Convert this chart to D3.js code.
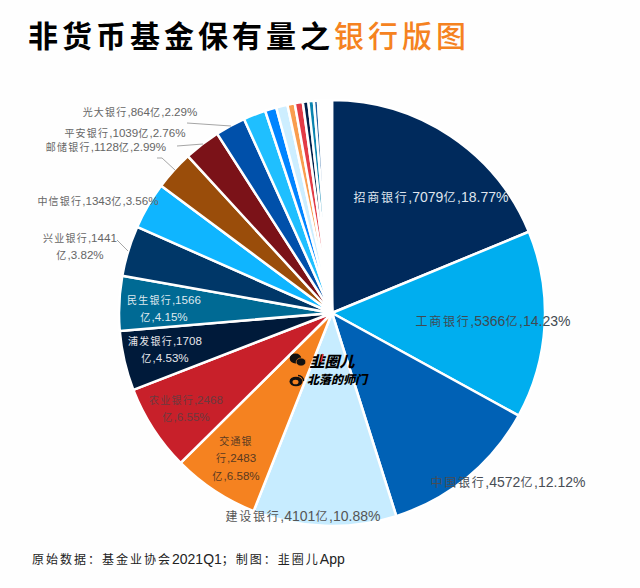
<!DOCTYPE html>
<html>
<head>
<meta charset="utf-8">
<script src="https://cdn.jsdelivr.net/npm/d3@7"></script>
<style>
 html,body{margin:0;padding:0;background:#fff}
 svg{display:block}
 text{font-family:"Liberation Sans","Noto Sans CJK SC",sans-serif}
</style>
</head>
<body>
<div id="chart"></div>
<script>
// values, 亿
const banks=["招商银行","工商银行","中国银行","建设银行","交通银行","农业银行","浦发银行","民生银行","兴业银行","中信银行","邮储银行","平安银行","光大银行"]
const amounts=[7079,5366,4572,4101,2483,2468,1708,1566,1441,1343,1128,1039,864]
const shares=["18.77%","14.23%","12.12%","10.88%","6.58%","6.55%","4.53%","4.15%","3.82%","3.56%","2.99%","2.76%","2.29%"]
// the unlabelled thin slices near the top
const otherAmounts=[640,325,325,210,230,157,157,115,73,52,52,52,40,40,40,48]

const sliceColors=["#002a5c","#00aeef","#0061b5","#c7ecff","#f58220","#c8202a","#001a3a","#006a94","#003768","#0fb5ff","#9a4d0a","#7b1218","#0050aa",
 "#1fbfff","#0084ff","#cdeeff","#f99d4e","#e23b46","#001f4a","#0a84b0","#1f5f9f","#0084ff","#cdeeff","#e8f6ff","#fbd3b0","#eef8ff","#f7fbff","#f7fbff","#f7fbff"]

// label lines: where each one sits, [center x, baseline y] and how the text wraps
// small:true is the smaller size the reference uses on the left half
const labelLayout=[
 {x:431,y:202,lines:null,fill:"#dfe5ee"},
 {x:493,y:326,lines:null,fill:"#3f4a52"},
 {x:508,y:487,lines:null,fill:"#484d55"},
 {x:303,y:521,lines:null,fill:"#555"},
 {x:236,y:445,small:true,lines:(n,v,s)=>[n.slice(0,3),n.slice(3)+","+v,"亿,"+s],fill:"#5a3a20"},
 {x:186,y:404,small:true,lines:(n,v,s)=>[n+","+v,"亿,"+s],fill:"#6b3a3f"},
 {x:165,y:345,small:true,lines:(n,v,s)=>[n+","+v,"亿,"+s],fill:"#e6e6ea"},
 {x:164,y:304,small:true,lines:(n,v,s)=>[n+","+v,"亿,"+s],fill:"#dfe8ee"},
 {x:80,y:242,small:true,lines:(n,v,s)=>[n+","+v,"亿,"+s],fill:"#666"},
 {x:98,y:205,small:true,lines:null,fill:"#666"},
 {x:106,y:151,small:true,lines:null,fill:"#666"},
 {x:125,y:137,small:true,lines:null,fill:"#666"},
 {x:140,y:116,small:true,lines:null,fill:"#666"}
]
// leader line paths for the outside labels, index -> elbow/end points
const leaders={8:[[117,240],[128,251]],10:[[157,158],[162,158],[175,170]],11:[[177,146],[203,144]],12:[[187,123],[231,126]]}

const width=640,height=588
const cx=332,cy=313,radius=213

const svg=d3.select("#chart").append("svg").attr("width",width).attr("height",height)
svg.append("rect").attr("width",width).attr("height",height).attr("fill","#fefefe")

//title
const title=svg.append("text").attr("x",28).attr("y",47)
 .style("font-family",'"Noto Sans CJK SC"').style("font-size","30px").style("letter-spacing","4px")
title.append("tspan").attr("fill","#000").style("font-weight",700).text("非货币基金保有量之")
title.append("tspan").attr("fill","#f58220").style("font-weight",500).text("银行版图")

//pie
const allValues=amounts.concat(otherAmounts)
const pie=d3.pie().sort(null)
const arc=d3.arc().innerRadius(0).outerRadius(radius)
const g=svg.append("g").attr("transform",`translate(${cx},${cy})`)
g.selectAll("path").data(pie(allValues)).enter().append("path")
 .attr("d",arc)
 .attr("fill",(d,i)=>sliceColors[i])
 .attr("stroke","#fff").attr("stroke-width",2.5).attr("stroke-linejoin","round")

//leaders
const line=d3.line()
Object.keys(leaders).forEach(k=>{
 svg.append("path").attr("d",line(leaders[k])).attr("fill","none").attr("stroke","#a6a6a6").attr("stroke-width",1)
})

// CJK gets a bit of tracking, latin stays tight
function addMixed(t,str,track,cjkSize,latinSize){
 str.split(/([\u4e00-\u9fff\uff00-\uffef]+)/).filter(s=>s).forEach(s=>{
  const isCjk=/[\u4e00-\u9fff\uff00-\uffef]/.test(s)
  t.append("tspan").style("letter-spacing",isCjk?track+"px":"0px").style("font-size",(isCjk?cjkSize:latinSize)+"px").text(s)
 })
}

//labels
banks.forEach((n,i)=>{
 const lay=labelLayout[i]
 const one=n+","+amounts[i]+"亿,"+shares[i]
 const rows=lay.lines?lay.lines(n,amounts[i],shares[i]):[one]
 rows.forEach((r,j)=>{
  const t=svg.append("text").attr("x",lay.x).attr("y",lay.y+j*17.3).attr("text-anchor","middle").attr("fill",lay.fill)
  if(lay.small) addMixed(t,r,1.2,10,11.6)
  else addMixed(t,r,1.7,12,14)
 })
})

//footer
const foot=svg.append("text").attr("x",32).attr("y",564).attr("fill","#222")
addMixed(foot,"原始数据：基金业协会2021Q1；制图：韭圈儿App",2,12,14)

//watermark
const wm=svg.append("g")
wm.append("ellipse").attr("cx",295.5).attr("cy",358.5).attr("rx",5.8).attr("ry",5).attr("fill","#111")
wm.append("ellipse").attr("cx",301).attr("cy",362).attr("rx",4.8).attr("ry",4).attr("fill","#111").attr("stroke","#f58220").attr("stroke-width",.7)
wm.append("ellipse").attr("cx",296).attr("cy",381.5).attr("rx",6.5).attr("ry",4.8).attr("fill","#111")
wm.append("ellipse").attr("cx",295.5).attr("cy",382).attr("rx",3).attr("ry",2.3).attr("fill","#f58220")
wm.append("path").attr("d","M298 375.5a5.5 5.5 0 0 1 5.5 5.5").attr("fill","none").attr("stroke","#111").attr("stroke-width",1.4)
wm.append("text").attr("x",309.5).attr("y",366.5).attr("fill","#000")
 .style("font-family",'"Noto Sans CJK SC"').style("font-size","15px").style("font-weight",900).style("font-style","italic").text("韭圈儿")
wm.append("path").attr("d","M321 362L323 354").attr("stroke","#e0262c").attr("stroke-width",1.6)
wm.append("text").attr("x",307).attr("y",384).attr("fill","#000")
 .style("font-family",'"Noto Sans CJK SC"').style("font-size","12px").style("font-weight",900).style("font-style","italic").text("北落的师门")
</script>
</body>
</html>
